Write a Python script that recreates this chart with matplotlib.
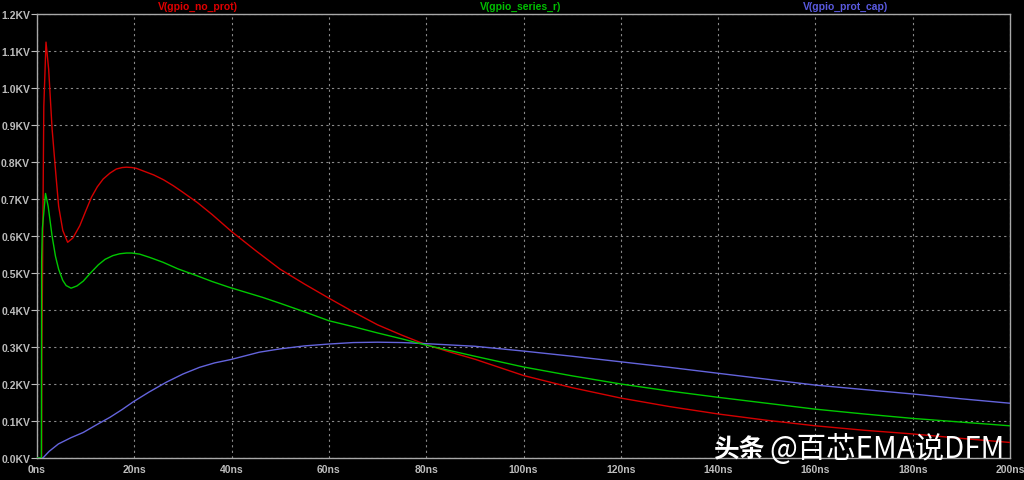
import matplotlib
matplotlib.use("Agg")
import matplotlib.pyplot as plt

# ---- data (time in ns, voltage in kV) ----
t_no_prot = [0, 0.95, 1.0, 1.4, 1.85, 2.4, 3.1, 3.9, 4.45, 5.3, 6.3, 7.4, 8.8, 10.0, 11.2, 12.4,
             13.6, 15.0, 16.3, 17.5, 18.4, 19.5, 20.4, 22, 24, 26, 28, 30, 33, 36, 40, 45, 50, 55,
             60, 65, 70, 75, 80, 85, 90, 95, 100, 110, 120, 130, 140, 150, 160, 170, 180, 190, 200]
v_no_prot = [0, 0, 0.28, 0.95, 1.124, 1.05, 0.89, 0.763, 0.68, 0.615, 0.583, 0.595, 0.628, 0.667,
             0.705, 0.733, 0.754, 0.770, 0.781, 0.785, 0.786, 0.785, 0.783, 0.775, 0.765, 0.752,
             0.736, 0.718, 0.69, 0.658, 0.612, 0.56, 0.51, 0.47, 0.432, 0.395, 0.36, 0.332, 0.306,
             0.286, 0.267, 0.245, 0.223, 0.19, 0.162, 0.139, 0.119, 0.102, 0.087, 0.075, 0.065,
             0.053, 0.042]

t_series_r = [0, 0.9, 0.95, 1.1, 1.75, 2.3, 3.1, 3.8, 4.45, 5.3, 6.0, 7.0, 8.2, 9.5, 11.0, 12.6,
              14.0, 15.6, 17.0, 18.4, 19.5, 21.1, 23.2, 25.9, 29, 32.8, 36, 39.6, 46.4, 50, 55, 60,
              65, 70, 75, 80, 90, 100, 110, 120, 130, 140, 150, 160, 170, 180, 190, 200]
v_series_r = [0, 0, 0.53, 0.62, 0.715, 0.68, 0.6, 0.545, 0.51, 0.48, 0.466, 0.459, 0.465, 0.478,
              0.50, 0.522, 0.537, 0.547, 0.552, 0.554, 0.554, 0.551, 0.542, 0.529, 0.511, 0.493,
              0.477, 0.461, 0.434, 0.418, 0.395, 0.371, 0.355, 0.338, 0.322, 0.305, 0.275, 0.246,
              0.222, 0.2, 0.181, 0.164, 0.148, 0.132, 0.119, 0.107, 0.097, 0.087]

t_prot_cap = [0, 1.2, 2.5, 4.4, 7, 9.5, 12, 15, 17.5, 19.8, 23, 26.6, 30, 33.4, 36.5, 39.8, 45.7,
              50, 55, 60, 65, 70, 75, 80, 90, 100, 110, 120, 130, 140, 150, 160, 170, 180, 190, 200]
v_prot_cap = [0, 0, 0.018, 0.038, 0.055, 0.069, 0.088, 0.11, 0.131, 0.152, 0.178, 0.205, 0.227,
              0.245, 0.257, 0.266, 0.286, 0.295, 0.303, 0.308, 0.312, 0.313, 0.312, 0.309, 0.302,
              0.289, 0.275, 0.26, 0.245, 0.229, 0.213, 0.197, 0.185, 0.173, 0.16, 0.148]

trace_names = ["V(gpio_no_prot)", "V(gpio_series_r)", "V(gpio_prot_cap)"]
x_ticks = [0, 20, 40, 60, 80, 100, 120, 140, 160, 180, 200]
x_labels = ["0ns", "20ns", "40ns", "60ns", "80ns", "100ns", "120ns", "140ns", "160ns", "180ns", "200ns"]
y_ticks = [0.0, 0.1, 0.2, 0.3, 0.4, 0.5, 0.6, 0.7, 0.8, 0.9, 1.0, 1.1, 1.2]
y_labels = ["%.1fKV" % v for v in y_ticks]
watermark_a = "头条"
watermark_b = "@百芯EMA说DFM"

# ---- styling ----
c_red = "#d40000"
c_green = "#00c800"
c_blue = "#6464dc"
c_lbl_red = "#e00000"
c_lbl_green = "#00c000"
c_lbl_blue = "#5a5ae0"
fg = "#bdbdbd"

fig = plt.figure(figsize=(10.24, 4.81), dpi=100, facecolor="black")
ax = fig.add_axes([37 / 1024, 1 - 459 / 481, (1010 - 37) / 1024, (459 - 15) / 481])
ax.set_facecolor("black")

ax.plot(t_no_prot, v_no_prot, color=c_red, lw=1.0, zorder=3)
ax.plot(t_prot_cap, v_prot_cap, color=c_blue, lw=1.0, zorder=3)
ax.plot(t_series_r, v_series_r, color=c_green, lw=1.0, zorder=4)

ax.set_xlim(0, 200)
ax.set_ylim(0, 1.2)
ax.set_xticks(x_ticks)
ax.set_xticklabels(x_labels)
ax.set_yticks(y_ticks)
ax.set_yticklabels(y_labels)

for lab in ax.get_xticklabels() + ax.get_yticklabels():
    lab.set_fontweight("bold")
    lab.set_color(fg)
    lab.set_fontsize(7.5)
    lab.set_family("Liberation Sans")

ax.tick_params(axis="y", direction="out", length=4, color=fg, pad=1)
ax.tick_params(axis="x", direction="out", length=0, color=fg, pad=4)

ax.grid(True, color="#8a8a8a", linestyle=(0, (2, 3)), linewidth=0.8)
for s in ax.spines.values():
    s.set_color("#a8a8a8")
    s.set_linewidth(1.0)

# trace labels above the plot
fig.text(198 / 1024, 1 - 7 / 481, trace_names[0], color=c_lbl_red, fontsize=7.5,
         fontweight="bold", ha="center", va="center", family="Liberation Sans")
fig.text(521 / 1024, 1 - 7 / 481, trace_names[1], color=c_lbl_green, fontsize=7.5,
         fontweight="bold", ha="center", va="center", family="Liberation Sans")
fig.text(846 / 1024, 1 - 7 / 481, trace_names[2], color=c_lbl_blue, fontsize=7.5,
         fontweight="bold", ha="center", va="center", family="Liberation Sans")

# watermark
fig.text(713 / 1024, 1 - 450 / 481, watermark_a, color="white", fontsize=18.5,
         fontweight="bold", ha="left", va="center",
         family=["Noto Sans CJK SC", "DejaVu Sans"], zorder=10)
fig.text(769 / 1024, 1 - 450 / 481, watermark_b, color="white", fontsize=21.2,
         ha="left", va="center", family=["Noto Sans CJK SC", "DejaVu Sans"], zorder=10)

fig.savefig("out.png", dpi=100, facecolor="black")
